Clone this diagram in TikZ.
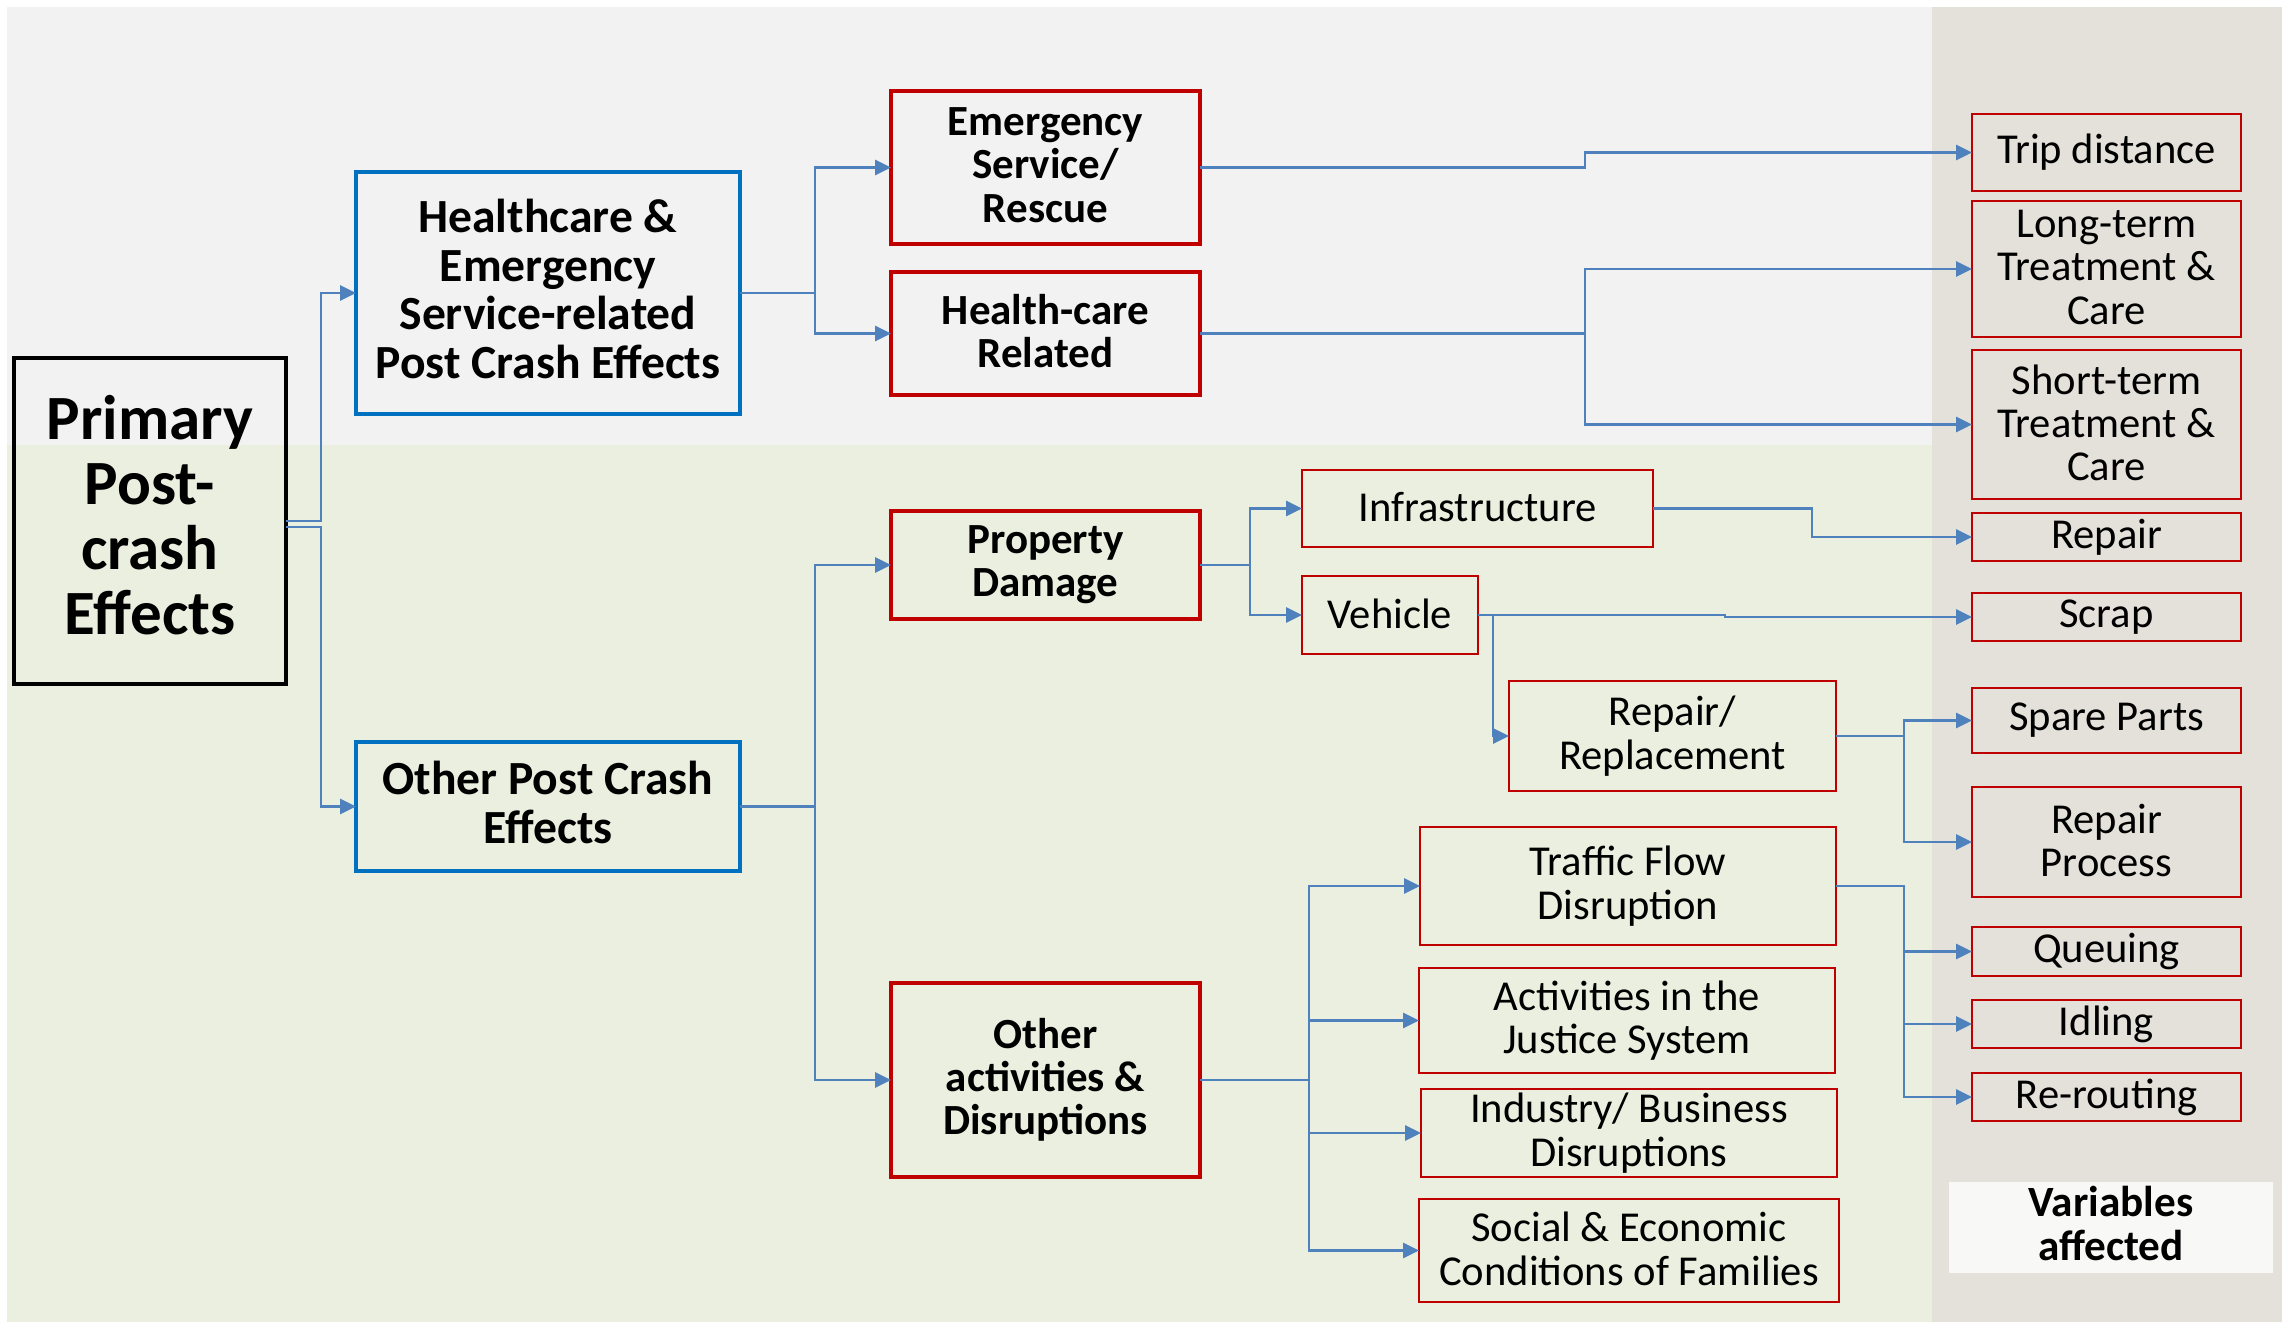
\documentclass[tikz,border=0pt]{standalone}
\usepackage{fontspec}
\setmainfont{Carlito}
\usetikzlibrary{arrows.meta}

\definecolor{conn}{HTML}{4F81BD}
\definecolor{boxblue}{HTML}{0070C0}
\definecolor{boxred}{HTML}{C00000}
\definecolor{bgtop}{HTML}{F2F2F2}
\definecolor{bgbottom}{HTML}{EBEFDF}
\definecolor{bgright}{HTML}{E3E1DA}
\definecolor{labelbg}{HTML}{F8F8F7}

% place a rectangular node from its corner coordinates (x1,y1)-(x2,y2)
\newcommand\mkbox[7]{%
  \pgfmathsetmacro\bxcx{(#3+#5)/2}%
  \pgfmathsetmacro\bxcy{(#4+#6)/2}%
  \pgfmathsetmacro\bxw{(#5-#3)*0.5}%
  \pgfmathsetmacro\bxh{(#6-#4)*0.5}%
  \node[#2, minimum width=\bxw pt, minimum height=\bxh pt] (#1) at (\bxcx,\bxcy) {#7};}

% minimum descent of the last text line, so text blocks centre like line boxes
\tikzset{
  descent/.style={execute at end node=\rule[-#1]{0pt}{0pt}},
  base/.style={rectangle, inner sep=0pt, outer sep=0pt, align=center, text=black},
  primbox/.style={base, draw=black, line width=1.75pt, descent=0.18em,
    font=\fontsize{31.5}{32.5}\selectfont\bfseries},
  bluebox/.style={base, draw=boxblue, line width=2pt, descent=0.18em,
    font=\fontsize{23.8}{24.3}\selectfont\bfseries},
  redbold/.style={base, draw=boxred, line width=2pt, descent=0.12em,
    font=\fontsize{21.5}{21.6}\selectfont\bfseries},
  redthin/.style={base, draw=boxred, line width=1.2pt, descent=0.08em,
    font=\fontsize{21.3}{21.7}\selectfont},
  varlabel/.style={base, fill=labelbg, descent=0.17em,
    font=\fontsize{21.6}{22}\selectfont\bfseries},
  link/.style={draw=conn, line width=1.4pt},
  arr/.style={link, -{Triangle[length=8pt,width=7.5pt]}},
}

\begin{document}
\begin{tikzpicture}[x=0.5pt, y=-0.5pt]
\useasboundingbox (0,0) rectangle (2292,1322);

% background bands
\fill[white] (0,0) rectangle (2292,1322);
\fill[bgtop] (7,7) rectangle (1932,445);
\fill[bgbottom] (7,445) rectangle (1932,1322);
\fill[bgright] (1932,7) rectangle (2282,1322);

% main hierarchy
\mkbox{prim}{primbox}{14}{358}{286}{684}{Primary\\Post-\\crash\\Effects}
\mkbox{hc}{bluebox}{356}{172}{740}{414}{Healthcare \&\\Emergency\\Service-related\\Post Crash Effects}
\mkbox{opc}{bluebox}{356}{742}{740}{871}{Other Post Crash\\Effects}

\mkbox{ems}{redbold}{891}{91}{1200}{244}{Emergency\\Service/\\Rescue}
\mkbox{hcr}{redbold}{891}{272}{1200}{395}{Health-care\\Related}
\mkbox{pd}{redbold}{891}{511}{1200}{619}{Property\\Damage}
\mkbox{oad}{redbold}{891}{983}{1200}{1177}{Other\\activities \&\\Disruptions}

\mkbox{infra}{redthin}{1302}{470}{1653}{547}{Infrastructure}
\mkbox{veh}{redthin}{1302}{576}{1478}{654}{Vehicle}
\mkbox{rr}{redthin}{1509}{681}{1836}{791}{Repair/\\Replacement}
\mkbox{tfd}{redthin}{1420}{827}{1836}{945}{Traffic Flow\\Disruption}
\mkbox{ajs}{redthin}{1419}{968}{1835}{1073}{Activities in the\\Justice System}
\mkbox{ibd}{redthin}{1421}{1089}{1837}{1177}{Industry/ Business\\Disruptions}
\mkbox{sec}{redthin}{1419}{1199}{1839}{1302}{Social \& Economic\\Conditions of Families}

% affected variables
\mkbox{trip}{redthin}{1972}{114}{2241}{191}{Trip distance}
\mkbox{ltc}{redthin}{1972}{201}{2241}{337}{Long-term\\Treatment \&\\Care}
\mkbox{stc}{redthin}{1972}{350}{2241}{499}{Short-term\\Treatment \&\\Care}
\mkbox{rep}{redthin}{1972}{513}{2241}{561}{Repair}
\mkbox{scrap}{redthin}{1972}{593}{2241}{641}{Scrap}
\mkbox{spare}{redthin}{1972}{688}{2241}{753}{Spare Parts}
\mkbox{rproc}{redthin}{1972}{787}{2241}{897}{Repair\\Process}
\mkbox{queue}{redthin}{1972}{927}{2241}{976}{Queuing}
\mkbox{idle}{redthin}{1972}{1000}{2241}{1048}{Idling}
\mkbox{rerout}{redthin}{1972}{1073}{2241}{1121}{Re-routing}

\mkbox{varlab}{varlabel}{1949}{1182}{2273}{1273}{Variables\\affected}

% connectors
\draw[arr] (prim.east) -- ++(35,0) |- (hc.west);
\draw[arr] ([yshift=-3pt]prim.east) -- ++(35,0) |- (opc.west);

\draw[arr] (hc.east) -- ++(75,0) |- (ems.west);
\draw[arr] (hc.east) -- ++(75,0) |- (hcr.west);

\draw[arr] (opc.east) -- ++(75,0) |- (pd.west);
\draw[arr] (opc.east) -- ++(75,0) |- (oad.west);

\draw[arr] (pd.east) -- ++(50,0) |- (infra.west);
\draw[arr] (pd.east) -- ++(50,0) |- (veh.west);

\draw[arr] (oad.east) -- ++(109,0) |- (tfd.west);
\draw[arr] (oad.east) -- ++(109,0) |- (ajs.west);
\draw[arr] (oad.east) -- ++(109,0) |- (ibd.west);
\draw[arr] (oad.east) -- ++(109,0) |- (sec.west);

\draw[arr] (ems.east) -- ++(385,0) |- (trip.west);
\draw[arr] (hcr.east) -- ++(385,0) |- (ltc.west);
\draw[arr] (hcr.east) -- ++(385,0) |- (stc.west);

\draw[arr] (infra.east) -- ++(159,0) |- (rep.west);
\draw[arr] (veh.east) -- ++(247,0) |- (scrap.west);
\draw[arr] (veh.east) -- ++(15,0) |- (rr.west);

\draw[arr] (rr.east) -- ++(68,0) |- (spare.west);
\draw[arr] (rr.east) -- ++(68,0) |- (rproc.west);

\draw[arr] (tfd.east) -- ++(68,0) |- (queue.west);
\draw[arr] (tfd.east) -- ++(68,0) |- (idle.west);
\draw[arr] (tfd.east) -- ++(68,0) |- (rerout.west);
\end{tikzpicture}
\end{document}
